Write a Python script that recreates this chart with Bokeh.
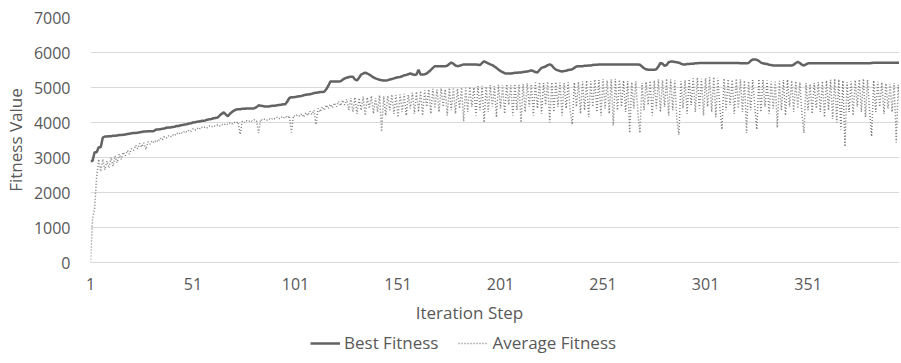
from bokeh.plotting import figure
from bokeh.layouts import column
from bokeh.models import Range1d, FixedTicker, Legend, LegendItem, ColumnDataSource, Label
from bokeh.embed import file_html
from bokeh.resources import INLINE

best_fitness = [
    2900, 2900, 3150, 3150, 3290, 3290, 3570, 3600, 3600, 3610,
    3610, 3620, 3620, 3630, 3640, 3640, 3650, 3660, 3670, 3680,
    3690, 3700, 3700, 3710, 3720, 3730, 3740, 3740, 3750, 3750,
    3750, 3760, 3800, 3800, 3810, 3820, 3830, 3850, 3860, 3860,
    3870, 3880, 3900, 3900, 3920, 3930, 3940, 3950, 3970, 3980,
    4000, 4010, 4020, 4030, 4040, 4050, 4060, 4080, 4090, 4100,
    4120, 4130, 4140, 4200, 4250, 4290, 4230, 4180, 4250, 4300,
    4340, 4370, 4380, 4380, 4390, 4390, 4400, 4400, 4400, 4400,
    4410, 4440, 4490, 4480, 4470, 4460, 4460, 4460, 4470, 4480,
    4480, 4490, 4500, 4510, 4520, 4520, 4600, 4700, 4720, 4720,
    4730, 4740, 4750, 4760, 4780, 4790, 4800, 4810, 4820, 4840,
    4850, 4860, 4870, 4870, 4880, 4950, 5050, 5170, 5170, 5170,
    5170, 5170, 5180, 5220, 5260, 5280, 5300, 5310, 5310, 5230,
    5200, 5280, 5370, 5400, 5420, 5400, 5370, 5330, 5290, 5260,
    5240, 5220, 5210, 5200, 5200, 5210, 5230, 5240, 5260, 5280,
    5290, 5300, 5320, 5350, 5360, 5380, 5400, 5380, 5360, 5370,
    5510, 5370, 5370, 5380, 5400, 5450, 5500, 5560, 5610, 5610,
    5610, 5610, 5610, 5610, 5620, 5670, 5710, 5680, 5630, 5610,
    5620, 5640, 5660, 5660, 5660, 5660, 5660, 5660, 5660, 5650,
    5640, 5700, 5750, 5720, 5690, 5660, 5640, 5600, 5560, 5510,
    5470, 5440, 5410, 5400, 5400, 5400, 5410, 5420, 5420, 5430,
    5430, 5440, 5450, 5460, 5470, 5490, 5470, 5440, 5430, 5500,
    5560, 5580, 5600, 5640, 5660, 5630, 5560, 5510, 5490, 5470,
    5460, 5470, 5480, 5500, 5510, 5520, 5560, 5600, 5610, 5610,
    5610, 5620, 5620, 5630, 5630, 5640, 5650, 5650, 5660, 5660,
    5660, 5660, 5660, 5660, 5660, 5660, 5660, 5660, 5660, 5660,
    5660, 5660, 5660, 5660, 5660, 5660, 5660, 5660, 5650, 5600,
    5550, 5520, 5510, 5510, 5510, 5510, 5520, 5600, 5700, 5680,
    5620, 5640, 5720, 5740, 5740, 5730, 5720, 5710, 5680, 5660,
    5660, 5670, 5670, 5680, 5680, 5690, 5690, 5700, 5700, 5700,
    5700, 5700, 5700, 5700, 5700, 5700, 5700, 5700, 5700, 5700,
    5700, 5700, 5700, 5700, 5700, 5700, 5700, 5690, 5690, 5690,
    5690, 5700, 5760, 5800, 5800, 5790, 5760, 5710, 5690, 5680,
    5670, 5650, 5640, 5630, 5630, 5630, 5630, 5630, 5630, 5630,
    5630, 5630, 5630, 5650, 5700, 5730, 5700, 5650, 5630, 5660,
    5690, 5690, 5690, 5690, 5690, 5690, 5690, 5690, 5690, 5690,
    5690, 5690, 5690, 5690, 5690, 5690, 5690, 5690, 5690, 5690,
    5690, 5690, 5690, 5690, 5690, 5690, 5690, 5690, 5690, 5690,
    5690, 5700, 5710, 5710, 5710, 5710, 5710, 5710, 5710, 5710,
    5710, 5710, 5710, 5710, 5710, 5710,
]

average_fitness = [
    0, 1250, 1550, 2450, 2950, 2600, 2950, 2650, 2900, 2700,
    3000, 2750, 3050, 2850, 3100, 2950, 3150, 3050, 3200, 3100,
    3250, 3200, 3350, 3250, 3400, 3300, 3420, 3230, 3450, 3380,
    3480, 3420, 3500, 3450, 3560, 3500, 3600, 3560, 3620, 3580,
    3650, 3620, 3700, 3660, 3720, 3690, 3760, 3720, 3780, 3750,
    3820, 3780, 3840, 3800, 3870, 3840, 3880, 3850, 3900, 3870,
    3910, 3890, 3930, 3900, 3950, 3920, 3970, 3940, 3990, 3960,
    4010, 3980, 4020, 3660, 4040, 4000, 4050, 4020, 4060, 4030,
    4080, 4040, 3700, 4090, 4060, 4100, 4070, 4110, 4080, 4130,
    4100, 4150, 4110, 4160, 4120, 4180, 4130, 4190, 3720, 4200,
    4170, 4220, 4180, 4250, 4150, 4280, 4200, 4320, 4230, 4350,
    3940, 4400, 4300, 4450, 4350, 4500, 4400, 4520, 4420, 4560,
    4450, 4600, 4480, 4640, 4500, 4660, 4350, 4700, 4300, 4720,
    4250, 4700, 4350, 4740, 4200, 4720, 4400, 4760, 4250, 4700,
    4300, 4780, 3740, 4750, 4200, 4760, 4350, 4800, 4250, 4780,
    4150, 4800, 4300, 4820, 4200, 4790, 4400, 4850, 4250, 4880,
    4300, 4900, 4200, 4920, 4450, 4950, 4250, 4960, 4400, 4940,
    4300, 4980, 4450, 4950, 4200, 4990, 4350, 5000, 4250, 4970,
    4400, 5000, 4030, 4990, 4300, 5020, 4450, 5000, 4200, 5040,
    4350, 5050, 4000, 5030, 4300, 5060, 4450, 5040, 4150, 5080,
    4400, 5070, 4250, 5090, 4500, 5060, 4200, 5100, 4350, 5080,
    4000, 5100, 4300, 5120, 4450, 5090, 4200, 5140, 4400, 5150,
    4250, 5130, 4500, 5170, 4000, 5150, 4300, 5160, 4450, 5140,
    4200, 5130, 4400, 5150, 4300, 3940, 5140, 4450, 5160, 4250,
    5170, 4350, 5200, 4150, 5180, 4450, 5230, 4300, 5210, 4200,
    5240, 4400, 5200, 4250, 5230, 3910, 5250, 4350, 5220, 4450,
    5200, 4300, 5180, 3700, 5150, 4400, 5170, 4250, 3700, 5130,
    4350, 5160, 4500, 5190, 4200, 5200, 4400, 5230, 4300, 5210,
    4450, 5250, 4200, 5230, 4350, 5200, 4100, 3650, 5180, 4400,
    5210, 4250, 5240, 4500, 5260, 4300, 5280, 4400, 5250, 4200,
    5270, 4450, 5290, 4300, 5300, 4150, 5280, 4400, 3800, 5260,
    4350, 5240, 4500, 5220, 4250, 5250, 4400, 5230, 4300, 5200,
    3700, 5180, 4350, 5210, 4450, 3800, 5240, 4300, 5220, 4450,
    5200, 4250, 5180, 4400, 5160, 3850, 5190, 4350, 5210, 4200,
    5230, 4450, 5200, 4300, 5180, 4400, 5150, 4250, 3700, 5120,
    4350, 5100, 4250, 5130, 4400, 5150, 4300, 5180, 4150, 5200,
    4350, 5220, 4100, 5250, 4000, 5230, 3800, 5200, 3310, 5150,
    4300, 5180, 4200, 5210, 4450, 5230, 4300, 5250, 4150, 5220,
    4350, 3600, 5200, 4300, 5170, 4450, 5150, 4250, 5120, 4400,
    5100, 4300, 5130, 3430, 5080, 4350,
]

iterations = list(range(1, len(best_fitness) + 1))
x_ticks = [1, 51, 101, 151, 201, 251, 301, 351]
y_ticks = [0, 1000, 2000, 3000, 4000, 5000, 6000, 7000]

x_title = "Iteration Step"
y_title = "Fitness Value"
series_names = ["Best Fitness", "Average Fitness"]

FONT = "Open Sans"
TXT = "#595959"
BEST_COLOR = "#636363"
AVG_COLOR = "#7f7f7f"
TICK_SIZE = "16px"
TITLE_SIZE = "17px"

src = ColumnDataSource(dict(x=iterations, best=best_fitness, avg=average_fitness))

p = figure(frame_width=809, frame_height=245, output_backend="svg", toolbar_location=None,
           x_range=Range1d(1, 395.6), y_range=Range1d(0, 7000),
           min_border_left=81, min_border_right=0, min_border_top=17, min_border_bottom=35)
p.outline_line_color = None

p.line("x", "avg", source=src, line_color=AVG_COLOR, line_width=1.5, line_dash="1 2")
p.line("x", "best", source=src, line_color=BEST_COLOR, line_width=2.5)

p.xgrid.grid_line_color = None
p.ygrid.grid_line_color = "#d9d9d9"
p.ygrid.grid_line_width = 1

p.xaxis.ticker = FixedTicker(ticks=x_ticks)
p.yaxis.ticker = FixedTicker(ticks=y_ticks)
for ax in (p.xaxis[0], p.yaxis[0]):
    ax.major_tick_line_color = None
    ax.minor_tick_line_color = None
    ax.major_label_text_font = FONT
    ax.major_label_text_font_size = TICK_SIZE
    ax.major_label_text_color = TXT
    ax.axis_label_text_font = FONT
    ax.axis_label_text_font_size = TITLE_SIZE
    ax.axis_label_text_font_style = "normal"
    ax.axis_label_text_color = TXT
p.xaxis.axis_line_color = "#d9d9d9"
p.xaxis.major_label_standoff = 9
p.yaxis.axis_line_color = None
p.yaxis.major_label_standoff = 14
p.yaxis.axis_label = y_title
p.yaxis.axis_label_standoff = 4

# lower strip with the x-axis title and the legend; same borders as the chart
p2 = figure(frame_width=809, frame_height=62, output_backend="svg", toolbar_location=None,
            x_range=Range1d(0, 809), y_range=Range1d(0, 62),
            x_axis_type=None, y_axis_type=None,
            min_border_left=81, min_border_right=0, min_border_top=0, min_border_bottom=0)
p2.outline_line_color = None
p2.xgrid.grid_line_color = None
p2.ygrid.grid_line_color = None

p2.add_layout(Label(x=379, y=47, x_units="screen", y_units="screen", text=x_title,
                    text_font=FONT, text_font_size=TITLE_SIZE, text_color=TXT,
                    text_align="center", text_baseline="middle"))

lb = p2.line(x=[-60, -50], y=[-60, -60], line_color=BEST_COLOR, line_width=2.5)
la = p2.line(x=[-60, -50], y=[-60, -60], line_color=AVG_COLOR, line_width=1.5, line_dash="1 2")
legend = Legend(items=[LegendItem(label=series_names[0], renderers=[lb]),
                       LegendItem(label=series_names[1], renderers=[la])],
                location=(283, 5), orientation="horizontal",
                label_text_font=FONT, label_text_font_size=TITLE_SIZE, label_text_color=TXT,
                glyph_width=30, glyph_height=20, label_standoff=4, spacing=20,
                padding=0, margin=0, border_line_color=None, background_fill_alpha=0)
p2.add_layout(legend, "center")

layout = column(p, p2, spacing=0)
open("out.html", "w").write(file_html(layout, INLINE))
